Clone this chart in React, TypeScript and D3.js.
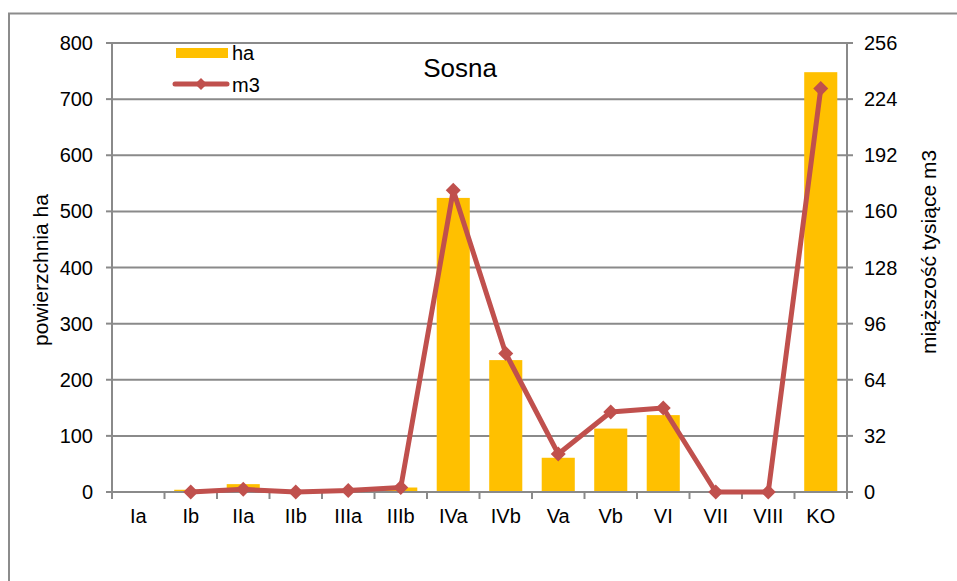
import React from "react";
import * as d3 from "d3";

const categories = ["Ia", "Ib", "IIa", "IIb", "IIIa", "IIIb", "IVa", "IVb", "Va", "Vb", "VI", "VII", "VIII", "KO"];
const haValues = [0, 4, 14, 0, 0, 8, 524, 235, 61, 113, 137, 0, 0, 748];
const m3Values: (number | null)[] = [null, 0, 1.5, 0, 0.8, 2.5, 172, 79, 21.7, 45.6, 47.9, 0, 0, 230];
const leftTicks = [0, 100, 200, 300, 400, 500, 600, 700, 800];
const rightTicks = [0, 32, 64, 96, 128, 160, 192, 224, 256];
const chartTitle = "Sosna";
const leftTitle = "powierzchnia ha";
const rightTitle = "miąższość tysiące m3";
const seriesNames = ["ha", "m3"];

const W = 957;
const H = 581;
const plot = { left: 112, right: 847, top: 43, bottom: 492 };
const FONT = "'Liberation Sans', Arial, sans-serif";
const BAR = "#FFC000";
const LINE = "#C0504D";
const GRID = "#8a8a8a";

export default function App() {
  const x = d3.scaleBand<string>().domain(categories).range([plot.left, plot.right]).padding(0);
  const yL = d3.scaleLinear().domain([0, 800]).range([plot.bottom, plot.top]);
  const yR = d3.scaleLinear().domain([0, 256]).range([plot.bottom, plot.top]);
  const bw = x.bandwidth() * 0.63;

  const linePts = categories
    .map((c, i) => ({ c, v: m3Values[i] }))
    .filter((d) => d.v !== null) as { c: string; v: number }[];
  const lineGen = d3
    .line<{ c: string; v: number }>()
    .x((d) => (x(d.c) as number) + x.bandwidth() / 2)
    .y((d) => yR(d.v));

  const diamond = (cx: number, cy: number, r: number) =>
    `M${cx},${cy - r}L${cx + r},${cy}L${cx},${cy + r}L${cx - r},${cy}Z`;

  const boundaries = d3.range(categories.length + 1).map((i) => plot.left + i * x.bandwidth());

  return (
    <svg
      width={W}
      height={H}
      style={{ position: "absolute", left: 0, top: 0, background: "#fff" }}
      fontFamily={FONT}
    >
      <rect x={0} y={0} width={W} height={H} fill="#fff" />
      <rect x={9} y={13.5} width={W + 20} height={H + 20} fill="none" stroke="#8c8c8c" strokeWidth={2} />

      {/* gridlines */}
      {leftTicks.map((t) => (
        <line key={"g" + t} x1={plot.left} x2={plot.right} y1={yL(t)} y2={yL(t)} stroke={GRID} strokeWidth={2} />
      ))}
      {/* left axis */}
      <line x1={plot.left} x2={plot.left} y1={plot.top} y2={plot.bottom + 7} stroke={GRID} strokeWidth={2} />
      {leftTicks.map((t) => (
        <g key={"l" + t}>
          <line x1={plot.left - 6} x2={plot.left} y1={yL(t)} y2={yL(t)} stroke={GRID} strokeWidth={2} />
          <text x={93} y={yL(t) + 7} textAnchor="end" fontSize={20} fill="#000">
            {t}
          </text>
        </g>
      ))}
      {/* right axis */}
      <line x1={plot.right} x2={plot.right} y1={plot.top} y2={plot.bottom + 7} stroke={GRID} strokeWidth={2} />
      {rightTicks.map((t) => (
        <g key={"r" + t}>
          <line x1={plot.right} x2={plot.right + 6} y1={yR(t)} y2={yR(t)} stroke={GRID} strokeWidth={2} />
          <text x={864} y={yR(t) + 7} textAnchor="start" fontSize={20} fill="#000">
            {t}
          </text>
        </g>
      ))}
      {/* x ticks */}
      {boundaries.map((bx, i) => (
        <line key={"xt" + i} x1={bx} x2={bx} y1={plot.bottom} y2={plot.bottom + 7} stroke={GRID} strokeWidth={2} />
      ))}
      {categories.map((c) => (
        <text key={"xl" + c} x={(x(c) as number) + x.bandwidth() / 2} y={523} textAnchor="middle" fontSize={20} fill="#000">
          {c}
        </text>
      ))}

      {/* bars */}
      {categories.map((c, i) => {
        const v = haValues[i];
        if (!v) return null;
        return (
          <rect
            key={"b" + c}
            x={(x(c) as number) + (x.bandwidth() - bw) / 2}
            y={yL(v)}
            width={bw}
            height={yL(0) - yL(v)}
            fill={BAR}
          />
        );
      })}
      {/* zero axis over bars */}
      <line x1={plot.left} x2={plot.right} y1={plot.bottom} y2={plot.bottom} stroke={GRID} strokeWidth={2} />

      {/* line */}
      <path d={lineGen(linePts) || ""} fill="none" stroke={LINE} strokeWidth={5} strokeLinejoin="round" />
      {linePts.map((d) => (
        <path key={"m" + d.c} d={diamond((x(d.c) as number) + x.bandwidth() / 2, yR(d.v), 7.5)} fill={LINE} />
      ))}

      {/* title */}
      <text x={460} y={77} textAnchor="middle" fontSize={26} fill="#000">
        {chartTitle}
      </text>

      {/* legend */}
      <rect x={176} y={48} width={52} height={10} fill={BAR} />
      <text x={232} y={60} fontSize={20} fill="#000">
        {seriesNames[0]}
      </text>
      <line x1={175} x2={227} y1={84} y2={84} stroke={LINE} strokeWidth={5} strokeLinecap="round" />
      <path d={diamond(201, 84, 6)} fill={LINE} />
      <text x={232} y={92} fontSize={20} fill="#000">
        {seriesNames[1]}
      </text>

      {/* axis titles */}
      <text transform={`translate(48,270) rotate(-90)`} textAnchor="middle" fontSize={21} fill="#000">
        {leftTitle}
      </text>
      <text transform={`translate(936,252) rotate(-90)`} textAnchor="middle" fontSize={21} fill="#000">
        {rightTitle}
      </text>
    </svg>
  );
}
